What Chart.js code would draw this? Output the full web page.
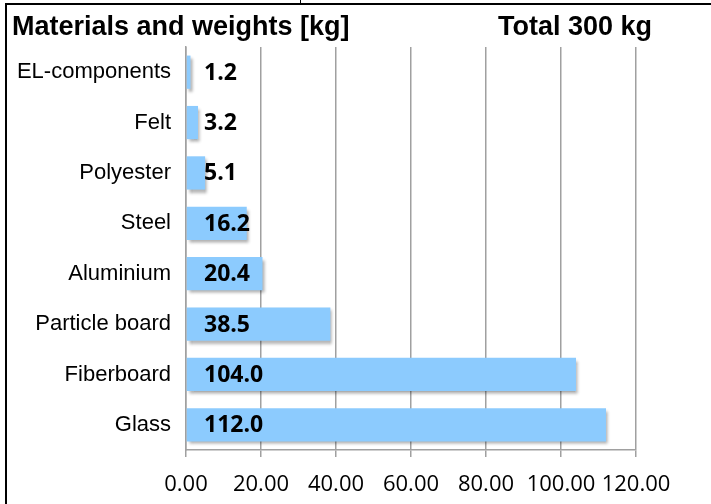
<!DOCTYPE html>
<html>
<head>
<meta charset="utf-8">
<script src="https://cdn.jsdelivr.net/npm/chart.js@4"></script>
<style>
  body { margin: 0; background: #fff; }
  #wrap { position: relative; width: 711px; height: 504px; overflow: hidden; }
  #chart-box { position: absolute; left: 0; top: 0; width: 711px; height: 504px; }
  .title { position: absolute; top: 11px; font: bold 27px "Liberation Sans", Arial, sans-serif; color: #000; white-space: nowrap; }
  .frame-left { position: absolute; left: 5px; top: 3px; width: 2px; height: 501px; background: #000; }
  .frame-top { position: absolute; left: 5px; top: 3px; width: 706px; height: 2px; background: #000; }
  .frame-tick { position: absolute; left: 300px; top: 0; width: 1px; height: 4px; background: #000; }
</style>
</head>
<body>
<div id="wrap">
  <div id="chart-box"><canvas id="chart"></canvas></div>
  <div class="frame-left"></div>
  <div class="frame-top"></div>
  <div class="frame-tick"></div>
  <div class="title" style="left:12px">Materials and weights [kg]</div>
  <div class="title" style="left:498px">Total 300 kg</div>
</div>
<script>
const materials = ['EL-components', 'Felt', 'Polyester', 'Steel', 'Aluminium', 'Particle board', 'Fiberboard', 'Glass'];
const weights = [1.2, 3.2, 5.1, 16.2, 20.4, 38.5, 104.0, 112.0];
const xTicks = [0, 20, 40, 60, 80, 100, 120];

// schatten unter den balken
const barShadow = {
  id: 'barShadow',
  beforeDatasetsDraw(chart) {
    const ctx = chart.ctx;
    ctx.save();
    ctx.shadowColor = 'rgba(0,0,0,0.32)';
    ctx.shadowOffsetX = 2;
    ctx.shadowOffsetY = 3;
    ctx.shadowBlur = 3;
  },
  afterDatasetsDraw(chart) {
    chart.ctx.restore();
  }
};

// werte in den balken
const valueLabels = {
  id: 'valueLabels',
  afterDatasetsDraw(chart) {
    const ctx = chart.ctx;
    const x0 = chart.scales.x.getPixelForValue(0) + 18;
    const meta = chart.getDatasetMeta(0);
    ctx.save();
    ctx.font = 'bold 23px "Open Sans", sans-serif';
    ctx.fillStyle = '#000';
    ctx.textAlign = 'left';
    ctx.textBaseline = 'middle';
    meta.data.forEach((bar, i) => {
      ctx.fillText(weights[i].toFixed(1), x0, bar.y + 1);
    });
    ctx.restore();
  }
};

new Chart(document.getElementById('chart'), {
  type: 'bar',
  data: {
    labels: materials,
    datasets: [{
      data: weights,
      backgroundColor: '#8ccbfe',
      borderWidth: 0,
      categoryPercentage: 1,
      barPercentage: 0.66
    }]
  },
  options: {
    indexAxis: 'y',
    responsive: true,
    maintainAspectRatio: false,
    animation: false,
    layout: { padding: { left: 0, top: 47, right: 75, bottom: 0 } },
    plugins: { legend: { display: false }, tooltip: { enabled: false } },
    scales: {
      x: {
        min: 0,
        max: 120,
        afterBuildTicks: s => { s.ticks = xTicks.map(v => ({ value: v })); },
        afterFit: s => { s.height = 54; },
        grid: { color: '#a0a0a0', lineWidth: 1.5, tickLength: 7 },
        border: { display: true, color: '#a0a0a0', width: 1.5 },
        ticks: {
          padding: 15,
          color: '#000',
          font: { family: '"Open Sans", sans-serif', size: 22 },
          callback: v => v.toFixed(2)
        }
      },
      y: {
        afterFit: s => { s.width = 186; },
        grid: { display: false, drawTicks: false, tickLength: 0 },
        border: { display: true, color: '#a0a0a0', width: 1.5 },
        ticks: {
          padding: 15,
          color: '#000',
          font: { family: '"Liberation Sans", Arial, sans-serif', size: 22 }
        }
      }
    }
  },
  plugins: [barShadow, valueLabels]
});
</script>
</body>
</html>
